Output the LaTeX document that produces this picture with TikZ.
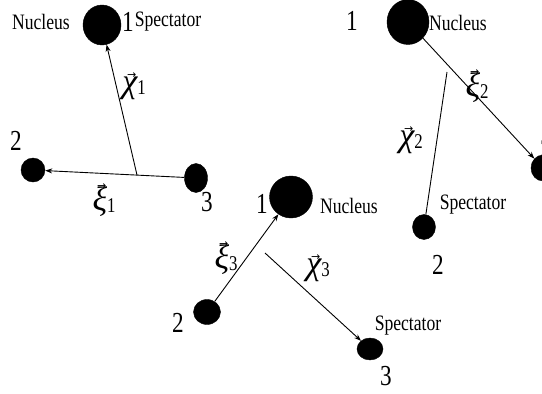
\documentclass[tikz,border=0pt]{standalone}
\usepackage{fontspec}
\usepackage{graphicx}
\setmainfont{Liberation Serif}
\newfontfamily\labfont[FakeStretch=0.8]{Liberation Serif}
\newfontfamily\arrfont{DejaVu Sans}
\usetikzlibrary{shapes.geometric,arrows.meta}
\newcommand{\vl}[2]{\leavevmode\setbox0\hbox{\fontsize{34}{36}\selectfont\itshape #1}%
  \vbox{\offinterlineskip\hbox to\wd0{\hss\kern4pt{\arrfont\fontsize{11}{11}\selectfont\char"2192}\hss}\kern-2pt\box0}%
  \raisebox{-2pt}{\labfont\fontsize{21}{22}\selectfont #2}}
\tikzset{
  ball/.style={ellipse,fill=black,draw=black,inner sep=0pt},
  word/.style={font=\labfont\fontsize{22}{24}\selectfont,inner sep=0pt},
  num/.style={font=\labfont\fontsize{29}{32}\selectfont,inner sep=0pt},
  vlab/.style={inner sep=0pt},
  vec/.style={line width=0.9pt,-{Stealth[length=7pt,width=5pt]}},
  plain/.style={line width=0.9pt}
}
\begin{document}
\begin{tikzpicture}[x=1pt,y=-1pt]
\clip (0,0) rectangle (542,394);
\fill[white] (0,0) rectangle (542,394);
% ---------- panel 1 ----------
\node[ball,minimum width=38pt,minimum height=40pt] (a1) at (102,25) {};
\node[ball,minimum width=24pt,minimum height=24pt] (a2) at (33,170) {};
\node[ball,minimum width=23pt,minimum height=29pt] (a3) at (196,178) {};
\coordinate (am) at (137,175);
\draw[vec] (a3) -- (a2);
\draw[vec] (am) -- (a1);
\node[word] (at1) at (41,22) {Nucleus};
\node[num] (an1) at (128,22) {1};
\node[word] (at2) at (168,22) {Spectator};
\node[num] (an2) at (16,141) {2};
\node[num] (an3) at (207,202) {3};
\node[vlab] (al1) at (134,86) {\vl{χ}{1}};
\node[vlab] (al2) at (104,200) {\vl{ξ}{1}};
% ---------- panel 2 ----------
\node[ball,minimum width=42pt,minimum height=45pt] (b1) at (408,22) {};
\node[ball,minimum width=23pt,minimum height=25pt] (b2) at (424,227) {};
\node[ball,minimum width=24pt,minimum height=26pt] (b3) at (543,168) {};
\coordinate (bm) at (447,72);
\draw[vec] (b1) -- (b3);
\draw[plain] (bm) -- (b2);
\node[num] (bn1) at (352,21) {1};
\node[word] (bt1) at (458,23) {Nucleus};
\node[vlab] (bl1) at (477,86) {\vl{ξ}{2}};
\node[vlab] (bl2) at (411,140) {\vl{χ}{2}};
\node[word] (bt2) at (473,205) {Spectator};
\node[num] (bn2) at (438,265) {2};
\node[num] (bn3) at (546,150) {3};
% ---------- panel 3 ----------
\node[ball,minimum width=43pt,minimum height=42pt] (c1) at (291,197) {};
\node[ball,minimum width=27pt,minimum height=25pt] (c2) at (207,312) {};
\node[ball,minimum width=26pt,minimum height=22pt] (c3) at (370,349) {};
\coordinate (cm) at (265,253);
\draw[vec] (c2) -- (c1);
\draw[vec] (cm) -- (c3);
\node[num] (cn1) at (262,204) {1};
\node[word] (ct1) at (349,206) {Nucleus};
\node[vlab] (cl1) at (226,258) {\vl{ξ}{3}};
\node[vlab] (cl2) at (318,268) {\vl{χ}{3}};
\node[num] (cn2) at (178,323) {2};
\node[num] (cn3) at (386,376) {3};
\node[word] (ct2) at (408,326) {Spectator};
\end{tikzpicture}
\end{document}
